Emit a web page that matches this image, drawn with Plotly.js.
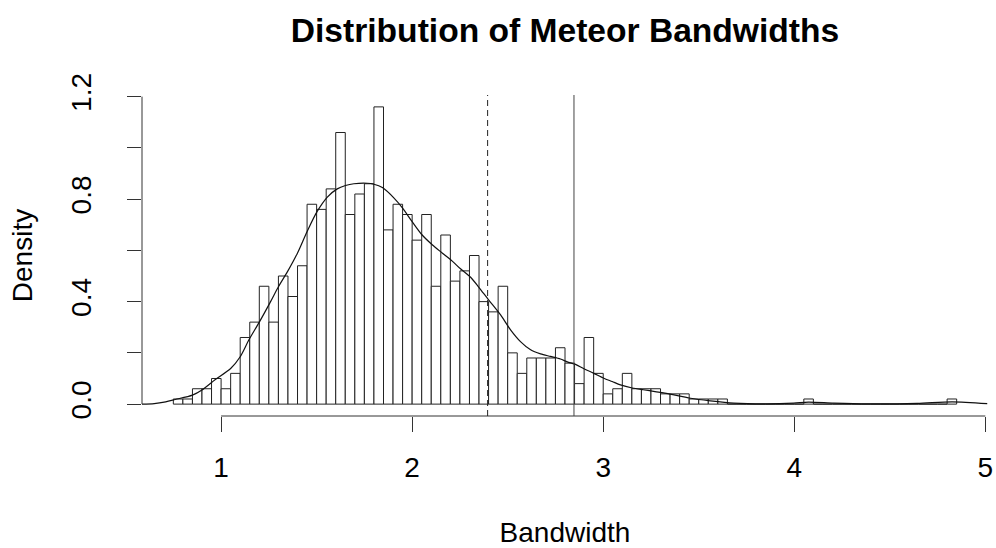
<!DOCTYPE html>
<html>
<head>
<meta charset="utf-8">
<script src="https://cdn.plot.ly/plotly-3.0.1.min.js"></script>
<style>
  html, body { margin: 0; padding: 0; background: #ffffff; }
  #chart { width: 996px; height: 548px; }
</style>
</head>
<body>
<div id="chart"></div>
<script>
// ---- data ----
const binStart = 0.75;
const binWidth = 0.05;
const densities = [
  0.02, 0.02, 0.06, 0.06, 0.10, 0.06, 0.12, 0.26, 0.32, 0.46,
  0.32, 0.50, 0.42, 0.54, 0.78, 0.76, 0.84, 1.06, 0.74, 0.82,
  0.86, 1.16, 0.68, 0.78, 0.74, 0.64, 0.74, 0.46, 0.66, 0.48,
  0.52, 0.58, 0.40, 0.36, 0.46, 0.20, 0.12, 0.18, 0.18, 0.18,
  0.22, 0.16, 0.08, 0.26, 0.12, 0.04, 0.06, 0.12, 0.06, 0.06,
  0.06, 0.04, 0.04, 0.04, 0.02, 0.02, 0.02, 0.02, 0.00, 0.00,
  0.00, 0.00, 0.00, 0.00, 0.00, 0.00, 0.02, 0.00, 0.00, 0.00,
  0.00, 0.00, 0.00, 0.00, 0.00, 0.00, 0.00, 0.00, 0.00, 0.00,
  0.00, 0.02
];
const kdeX = [0.58, 0.65, 0.71, 0.76, 0.85, 0.90, 0.97, 1.05, 1.10, 1.145,
  1.20, 1.259, 1.30, 1.346, 1.40, 1.451, 1.503, 1.556, 1.608,
  1.651, 1.695, 1.765, 1.80, 1.844, 1.904, 1.95, 2.00, 2.05,
  2.105, 2.157, 2.21, 2.253, 2.306, 2.35, 2.40, 2.463, 2.515, 2.567,
  2.62, 2.672, 2.724, 2.776, 2.812, 2.855, 2.899, 2.951, 3.003, 3.047,
  3.09, 3.152, 3.21, 3.256, 3.33, 3.457, 3.56, 3.683, 3.858, 3.997,
  4.074, 4.207, 4.382, 4.643, 4.826, 5.01];
const kdeY = [0.000, 0.002, 0.009, 0.018, 0.035, 0.055, 0.096, 0.139, 0.185, 0.25,
  0.32, 0.40, 0.458, 0.515, 0.59, 0.675, 0.752, 0.808, 0.840,
  0.853, 0.860, 0.862, 0.858, 0.845, 0.805, 0.765, 0.712, 0.662,
  0.622, 0.590, 0.558, 0.528, 0.495, 0.455, 0.407, 0.348, 0.29, 0.244,
  0.212, 0.196, 0.186, 0.176, 0.165, 0.155, 0.138, 0.12, 0.101, 0.088,
  0.075, 0.063, 0.056, 0.051, 0.042, 0.023, 0.013, 0.004, 0.001, 0.004,
  0.008, 0.004, 0.001, 0.003, 0.009, 0.002];
const dashedLineX = 2.395;
const solidLineX = 2.847;
const xTickVals = [1, 2, 3, 4, 5];
const yTickVals = [0, 0.2, 0.4, 0.6, 0.8, 1.0, 1.2];
const yTickText = ['0.0', '', '0.4', '', '0.8', '', '1.2'];

const binCenters = densities.map((d, i) => binStart + binWidth * i + binWidth / 2);

const FONT = 'Liberation Sans, Arial, Helvetica, sans-serif';

const traces = [
  {
    type: 'bar',
    x: binCenters,
    y: densities,
    width: binWidth,
    marker: { color: '#ffffff', line: { color: '#222222', width: 1 } },
    hoverinfo: 'x+y'
  },
  {
    type: 'scatter',
    mode: 'lines',
    x: kdeX,
    y: kdeY,
    line: { color: '#111111', width: 1.2, shape: 'spline', smoothing: 0.8 },
    hoverinfo: 'x+y'
  }
];

const layout = {
  width: 996,
  height: 548,
  margin: { l: 141.5, r: 8.4, t: 95.1, b: 131.8, pad: 0 },
  paper_bgcolor: '#ffffff',
  plot_bgcolor: '#ffffff',
  showlegend: false,
  bargap: 0,
  font: { family: FONT, size: 28, color: '#000000' },
  title: {
    text: 'Distribution of Meteor Bandwidths',
    font: { family: FONT, size: 33.6, color: '#000000', weight: 'bold' },
    x: 0.5, xref: 'paper', xanchor: 'center',
    y: 1 - 30 / 548, yref: 'container', yanchor: 'middle'
  },
  xaxis: {
    range: [0.586, 5.014],
    tickvals: xTickVals,
    ticktext: xTickVals.map(String),
    ticks: 'outside', ticklen: 15, tickwidth: 1, tickcolor: '#333333',
    showgrid: false, zeroline: false, showline: false,
    tickfont: { family: FONT, size: 28, color: '#000000' },
    ticklabelstandoff: 11,
    title: { text: 'Bandwidth', font: { family: FONT, size: 28, color: '#000000' }, standoff: 43 }
  },
  yaxis: {
    range: [-0.0464, 1.2064],
    tickvals: yTickVals,
    ticktext: yTickText,
    tickangle: -90,
    ticks: 'outside', ticklen: 14, tickwidth: 1, tickcolor: '#333333',
    showgrid: false, zeroline: false, showline: false,
    tickfont: { family: FONT, size: 28, color: '#000000' },
    ticklabelstandoff: 25,
    title: { text: 'Density', font: { family: FONT, size: 28, color: '#000000' }, standoff: 24 }
  },
  shapes: [
    { type: 'line', xref: 'x', yref: 'paper', x0: 1, x1: 5, y0: 0, y1: 0,
      line: { color: '#333333', width: 1 } },
    { type: 'line', xref: 'paper', yref: 'y', x0: 0, x1: 0, y0: 0, y1: 1.2,
      line: { color: '#333333', width: 1 } },
    { type: 'line', xref: 'x', yref: 'paper', x0: dashedLineX, x1: dashedLineX, y0: 0, y1: 1,
      line: { color: '#222222', width: 1, dash: '6px,4px' } },
    { type: 'line', xref: 'x', yref: 'paper', x0: solidLineX, x1: solidLineX, y0: 0, y1: 1,
      line: { color: '#444444', width: 1 } }
  ]
};

Plotly.newPlot('chart', traces, layout, { displayModeBar: false, staticPlot: true });
</script>
</body>
</html>
